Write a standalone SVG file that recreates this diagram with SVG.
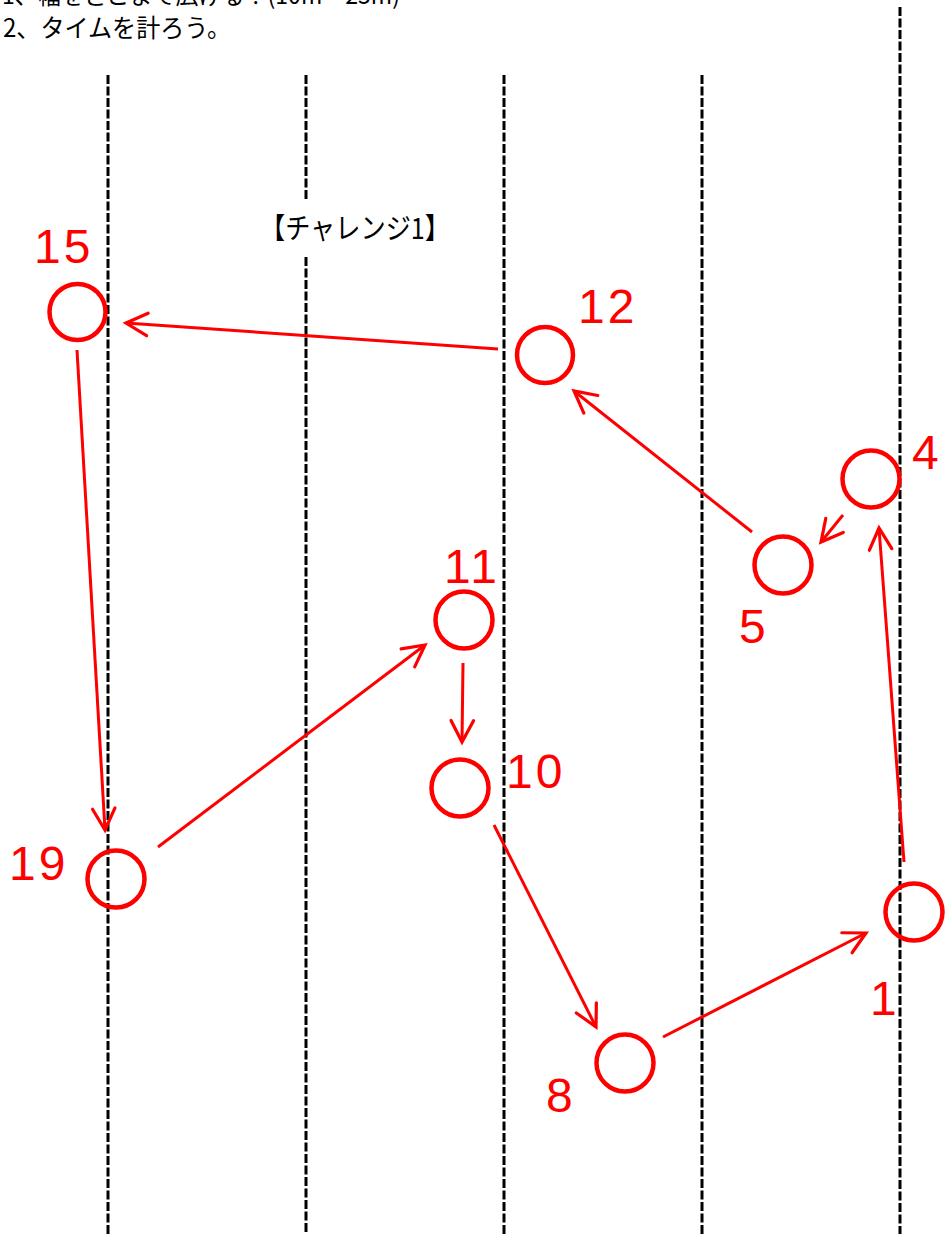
<svg xmlns="http://www.w3.org/2000/svg" width="948" height="1234" viewBox="0 0 948 1234">
<defs>
<style>
.grid{stroke:#000;stroke-width:3;stroke-dasharray:9 2.5;fill:none}
.node{fill:none;stroke:#ff0000;stroke-width:4.5}
.lbl{fill:#ff0000;font-family:"Liberation Sans","Noto Sans CJK JP",sans-serif;font-size:48px;letter-spacing:3px}
.edge{stroke:#ff0000;stroke-width:3;fill:none;marker-end:url(#ah)}
.txt{fill:#000;font-family:"Noto Sans CJK JP","Liberation Sans",sans-serif;font-weight:400}
</style>
<marker id="ah" markerUnits="userSpaceOnUse" markerWidth="30" markerHeight="30" viewBox="-24 -14 28 28" refX="0" refY="0" orient="auto">
<path d="M -20 -10.5 L 0 0 L -20 10.5" fill="none" stroke="#ff0000" stroke-width="3" stroke-linecap="round"/>
</marker>
</defs>
<rect width="948" height="1234" fill="#fff"/>
<g id="grid">
<line class="grid" x1="108" y1="75" x2="108" y2="1234"/>
<line class="grid" x1="306" y1="75" x2="306" y2="200"/>
<line class="grid" x1="306" y1="257" x2="306" y2="1234"/>
<line class="grid" x1="504" y1="75" x2="504" y2="1234"/>
<line class="grid" x1="702" y1="75" x2="702" y2="1234"/>
<line class="grid" x1="900" y1="7" x2="900" y2="1234"/>
</g>
<g id="header">
<text class="txt" x="2" y="4" font-size="24" textLength="398" lengthAdjust="spacingAndGlyphs">1、幅をどこまで広げる？(10m～25m)</text>
<text class="txt" x="3" y="37" font-size="25" textLength="228" lengthAdjust="spacingAndGlyphs">2、タイムを計ろう。</text>
<text class="txt" x="260" y="239" font-size="29" textLength="190" lengthAdjust="spacingAndGlyphs">【チャレンジ1】</text>
</g>
<g id="connectors">
<line class="edge" x1="498" y1="349" x2="126" y2="323"/>
<line class="edge" x1="752" y1="532" x2="574" y2="391"/>
<line class="edge" x1="843" y1="515" x2="821" y2="542"/>
<line class="edge" x1="904" y1="862" x2="879" y2="528"/>
<line class="edge" x1="663" y1="1037" x2="866" y2="933"/>
<line class="edge" x1="494" y1="825" x2="596" y2="1027"/>
<line class="edge" x1="463" y1="663" x2="462" y2="742"/>
<line class="edge" x1="158" y1="847" x2="425" y2="645"/>
<line class="edge" x1="77" y1="350" x2="105" y2="830"/>
</g>
<g id="n15"><circle class="node" cx="77.5" cy="312" r="28"/><text class="lbl" x="34" y="263">15</text></g>
<g id="n12"><circle class="node" cx="545" cy="355" r="28"/><text class="lbl" x="578" y="323">12</text></g>
<g id="n4"><circle class="node" cx="871" cy="479" r="28.5"/><text class="lbl" x="912" y="469">4</text></g>
<g id="n5"><circle class="node" cx="783" cy="565" r="28.5"/><text class="lbl" x="739" y="643">5</text></g>
<g id="n11"><circle class="node" cx="464" cy="620" r="28.5"/><text class="lbl" x="444" y="583">11</text></g>
<g id="n10"><circle class="node" cx="460" cy="788" r="28.5"/><text class="lbl" x="506" y="788">10</text></g>
<g id="n19"><circle class="node" cx="116" cy="879" r="28.5"/><text class="lbl" x="9" y="880">19</text></g>
<g id="n1"><circle class="node" cx="914" cy="912" r="28.5"/><text class="lbl" x="870" y="1015">1</text></g>
<g id="n8"><circle class="node" cx="625" cy="1063" r="28.5"/><text class="lbl" x="546" y="1112">8</text></g>
</svg>
